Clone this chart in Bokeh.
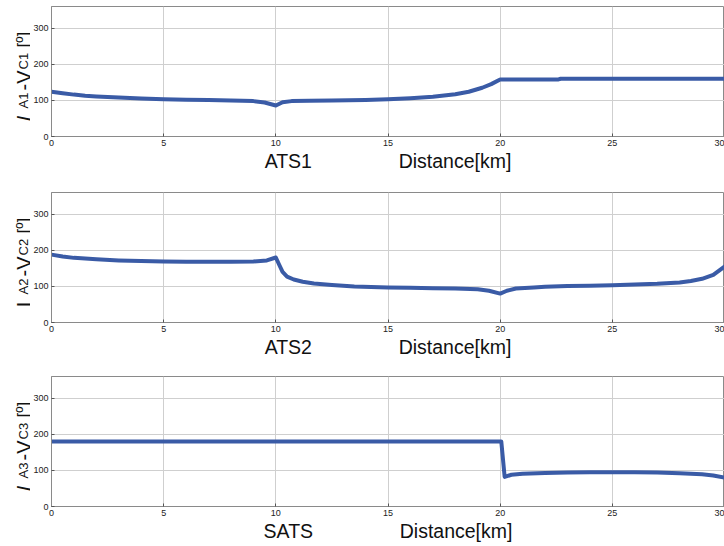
import math
from bokeh.plotting import figure
from bokeh.models import Range1d, FixedTicker
from bokeh.layouts import column, row
from bokeh.core.properties import value
from bokeh.embed import file_html
from bokeh.resources import INLINE

# ---------------- data ----------------
x_ticks = [0, 5, 10, 15, 20, 25, 30]
y_ticks = [0, 100, 200, 300]

ats1_x = [0, 0.5, 1, 1.5, 2, 3, 4, 5, 6, 7, 8, 9, 9.5, 10, 10.3, 10.7, 11.5, 12.5, 14, 15, 16, 17, 18, 18.6, 19.2, 19.6, 20, 22.6, 22.7, 30]
ats1_y = [124, 120, 116, 113, 111, 108, 105, 103, 102, 101, 100, 98, 94, 86, 95, 98, 99, 100, 101, 103, 106, 110, 117, 124, 135, 145, 158, 158, 160, 160]

ats2_x = [0, 0.5, 1, 2, 3, 4, 5, 6, 7, 8, 9, 9.6, 10, 10.15, 10.3, 10.5, 10.8, 11.2, 11.7, 12.5, 13.5, 15, 16, 17, 18, 19, 19.5, 20, 20.3, 20.7, 21.5, 22, 23, 24, 25, 26, 27, 28, 28.5, 29, 29.5, 30]
ats2_y = [188, 183, 179, 175, 172, 170, 169, 168, 168, 168, 169, 172, 180, 160, 140, 127, 119, 113, 108, 104, 100, 97, 96, 95, 94, 92, 88, 80, 88, 94, 97, 99, 101, 102, 103, 105, 107, 111, 115, 121, 132, 155]

sats_x = [0, 5, 10, 15, 20.05, 20.2, 20.5, 21, 22, 23, 24, 25, 26, 27, 28, 29, 29.5, 30]
sats_y = [180, 180, 180, 180, 180, 82, 88, 91, 93, 94, 95, 95, 95, 94, 92, 89, 86, 80]

panel_names = ["ATS1", "ATS2", "SATS"]
x_title = "Distance[km]"
label_subs = [("A1", "C1"), ("A2", "C2"), ("A3", "C3")]
label_italic = [True, False, True]

series = [(ats1_x, ats1_y), (ats2_x, ats2_y), (sats_x, sats_y)]

FONT = "Liberation Sans"
LINE_COLOR = "#3a5ba6"
FRAME_H = 130
LABEL_W = 30
MAIN_W = 724 - LABEL_W
MAIN_LEFT = 20
GAP = "\u00a0" * 16


def make_label_fig(i, top, bottom):
    q = figure(width=LABEL_W, height=top + FRAME_H + bottom,
               min_border_left=0, min_border_right=0,
               min_border_top=top, min_border_bottom=bottom,
               x_range=Range1d(0, LABEL_W), y_range=Range1d(0, FRAME_H),
               output_backend="svg", toolbar_location=None)
    q.xaxis.visible = False
    q.yaxis.visible = False
    q.xgrid.visible = False
    q.ygrid.visible = False
    q.outline_line_color = None
    q.background_fill_color = "white"
    q.border_fill_color = "white"
    sub_a, sub_c = label_subs[i]
    pieces = [
        ("I", "21px", 15, "italic" if label_italic[i] else "normal"),
        (sub_a, "13px", 28, "normal"),
        ("-V", "20px", 46, "normal"),
        (sub_c, "13px", 67, "normal"),
        ("[º]", "17px", 89, "normal"),
    ]
    for txt, size, pos, style in pieces:
        q.text(x=[23], y=[pos], text=[txt], angle=math.pi / 2,
               text_align="left", text_baseline="alphabetic",
               text_font=value(FONT), text_font_size=value(size),
               text_font_style=value(style), text_color="#111111")
    return q


def make_panel(i, xs, ys, top, bottom):
    p = figure(width=MAIN_W, height=top + FRAME_H + bottom,
               min_border_left=MAIN_LEFT, min_border_right=0,
               min_border_top=top, min_border_bottom=bottom,
               x_range=Range1d(0, 30), y_range=Range1d(0, 360),
               output_backend="svg", toolbar_location=None)
    p.background_fill_color = "white"
    p.border_fill_color = "white"
    p.outline_line_color = "#8a8a8a"
    p.outline_line_width = 1

    p.line(xs, ys, line_width=4, line_color=LINE_COLOR, line_join="round", line_cap="round")

    for ax, ticks in ((p.xaxis[0], x_ticks), (p.yaxis[0], y_ticks)):
        ax.ticker = FixedTicker(ticks=ticks)
        ax.minor_tick_line_color = None
        ax.major_tick_in = 3
        ax.major_tick_out = 0
        ax.major_tick_line_color = "#555555"
        ax.axis_line_color = "#8a8a8a"
        ax.major_label_text_font = FONT
        ax.major_label_text_font_size = "9px"
        ax.major_label_text_color = "#222222"
        ax.major_label_standoff = 3
    p.xgrid.grid_line_color = "#cfcfcf"
    p.ygrid.grid_line_color = "#cfcfcf"
    p.xgrid.ticker = FixedTicker(ticks=x_ticks)
    p.ygrid.ticker = FixedTicker(ticks=y_ticks)

    xa = p.xaxis[0]
    xa.axis_label = panel_names[i] + GAP + x_title
    xa.axis_label_text_font = FONT
    xa.axis_label_text_font_size = "19.5px"
    xa.axis_label_text_font_style = "normal"
    xa.axis_label_text_color = "#111111"
    xa.axis_label_standoff = 1
    return p


borders = [(6, 50), (6, 48), (6, 39)]
rows = []
for i, (xs, ys) in enumerate(series):
    top, bottom = borders[i]
    rows.append(row(make_label_fig(i, top, bottom), make_panel(i, xs, ys, top, bottom), spacing=0))

layout = column(*rows, spacing=0)

open("out.html", "w").write(file_html(layout, INLINE))
